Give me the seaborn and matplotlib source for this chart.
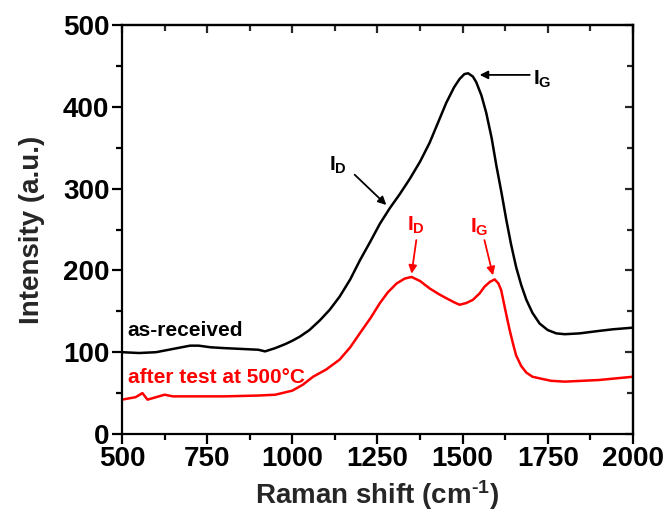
import numpy as np
import pandas as pd
import matplotlib
matplotlib.use("Agg")
import matplotlib.pyplot as plt
import seaborn as sns
from matplotlib.ticker import MultipleLocator, NullFormatter

# Raman shift (cm^-1) and intensities
shift_asrec = [500, 550, 600, 650, 700, 725, 760, 800, 850, 900, 920, 950, 980,
               1000, 1022, 1050, 1081, 1110, 1139, 1170, 1198, 1230, 1257, 1286,
               1315, 1345, 1375, 1403, 1430, 1452, 1475, 1491, 1505, 1516, 1530,
               1540, 1555, 1569, 1585, 1599, 1614, 1628, 1642, 1657, 1672, 1687,
               1705, 1726, 1750, 1775, 1800, 1843, 1900, 1941, 2000]
int_asrec = [100, 99, 100, 104, 108, 108, 106, 105, 104, 103, 101, 105, 110,
             114, 119, 127, 139, 152, 168, 189, 212, 236, 257, 276,
             293, 312, 333, 356, 383, 405, 424, 434, 440, 441, 437,
             430, 414, 393, 362, 328, 295, 262, 232, 204, 182, 164,
             148, 135, 127, 123, 122, 123, 126, 128, 130]

shift_after = [500, 540, 560, 575, 600, 625, 650, 700, 800, 900, 950, 1000,
               1030, 1061, 1100, 1139, 1170, 1198, 1230, 1257, 1280, 1306, 1330,
               1350, 1375, 1403, 1430, 1452, 1475, 1491, 1510, 1530, 1550, 1564,
               1580, 1594, 1605, 1613, 1625, 1638, 1648, 1657, 1672, 1687, 1705,
               1726, 1760, 1800, 1900, 2000]
int_after = [42, 45, 50, 42, 45, 48, 46, 46, 46, 47, 48, 53,
             60, 70, 79, 91, 106, 123, 142, 160, 173, 184, 190,
             192, 187, 178, 171, 166, 161, 158, 160, 164, 172, 180,
             186, 189, 184, 176, 152, 127, 110, 96, 83, 75, 70,
             68, 65, 64, 66, 70]

series_names = ["as-received", "after test at 500\u00b0C"]
series_colors = ["#000000", "#ff0000"]

df = pd.concat([
    pd.DataFrame({"shift": shift_asrec, "intensity": int_asrec, "sample": series_names[0]}),
    pd.DataFrame({"shift": shift_after, "intensity": int_after, "sample": series_names[1]}),
])

sns.set_theme(style="ticks")
plt.rcParams["font.family"] = ["Liberation Sans", "DejaVu Sans"]
plt.rcParams["font.weight"] = "bold"
plt.rcParams["mathtext.fontset"] = "custom"
plt.rcParams["mathtext.rm"] = "Liberation Sans:bold"
plt.rcParams["mathtext.bf"] = "Liberation Sans:bold"
plt.rcParams["mathtext.it"] = "Liberation Sans:bold"
plt.rcParams["mathtext.default"] = "bf"

fig = plt.figure(figsize=(6.68, 5.2), dpi=100)
ax = fig.add_axes([0.1826, 0.1654, 0.9476 - 0.1826, 0.9519 - 0.1654])

sns.lineplot(data=df, x="shift", y="intensity", hue="sample",
             palette=dict(zip(series_names, series_colors)),
             linewidth=1.8, legend=False, ax=ax, sort=True)

ax.set_xlim(500, 2000)
ax.set_ylim(0, 500)
ax.xaxis.set_major_locator(MultipleLocator(250))
ax.xaxis.set_minor_locator(MultipleLocator(125))
ax.yaxis.set_major_locator(MultipleLocator(100))
ax.yaxis.set_minor_locator(MultipleLocator(50))

for s in ax.spines.values():
    s.set_linewidth(1.6)
    s.set_color("black")

ax.tick_params(axis="both", which="major", direction="out", length=7, width=1.6,
               labelsize=20, pad=2, colors="black")
ax.tick_params(axis="both", which="minor", direction="out", length=4, width=1.6,
               colors="black")

# mirrored ticks pointing inward on top and right
sec_x = ax.secondary_xaxis("top")
sec_x.xaxis.set_major_locator(MultipleLocator(250))
sec_x.xaxis.set_minor_locator(MultipleLocator(125))
sec_x.xaxis.set_major_formatter(NullFormatter())
sec_x.tick_params(which="major", direction="in", length=6, width=1.6)
sec_x.tick_params(which="minor", direction="in", length=4, width=1.6)
sec_x.spines["top"].set_linewidth(1.6)

sec_y = ax.secondary_yaxis("right")
sec_y.yaxis.set_major_locator(MultipleLocator(100))
sec_y.yaxis.set_minor_locator(MultipleLocator(50))
sec_y.yaxis.set_major_formatter(NullFormatter())
sec_y.tick_params(which="major", direction="in", length=6, width=1.6)
sec_y.tick_params(which="minor", direction="in", length=4, width=1.6)
sec_y.spines["right"].set_linewidth(1.6)

for lab in ax.get_xticklabels() + ax.get_yticklabels():
    lab.set_fontweight("bold")

ax.set_xlabel("Raman shift (cm$^{\\text{-1}}$)", fontsize=20, fontweight="bold", labelpad=4)
ax.set_ylabel("Intensity (a.u.)", fontsize=20, fontweight="bold", labelpad=13)

ax.text(517, 127, series_names[0], color=series_colors[0], fontsize=15,
        fontweight="bold", va="center", ha="left")
ax.text(517, 69, series_names[1], color=series_colors[1], fontsize=15,
        fontweight="bold", va="center", ha="left")

arrow_k = dict(arrowstyle="-|>", color="black", lw=1.3, mutation_scale=12,
               shrinkA=0, shrinkB=0)
arrow_r = dict(arrowstyle="-|>", color="red", lw=1.3, mutation_scale=12,
               shrinkA=0, shrinkB=0)

# text labels
ax.text(1134, 328, "I$_{D}$", color="black", fontsize=15, ha="center", va="center")
ax.text(1735, 433, "I$_{G}$", color="black", fontsize=15, ha="center", va="center")
ax.text(1364, 255, "I$_{D}$", color="red", fontsize=15, ha="center", va="center")
ax.text(1550, 253, "I$_{G}$", color="red", fontsize=15, ha="center", va="center")

# arrows
ax.annotate("", xy=(1276, 280), xytext=(1183, 317), arrowprops=arrow_k)
ax.annotate("", xy=(1550, 439), xytext=(1697, 439), arrowprops=arrow_k)
ax.annotate("", xy=(1350, 196), xytext=(1364, 237), arrowprops=arrow_r)
ax.annotate("", xy=(1589, 194), xytext=(1564, 237), arrowprops=arrow_r)

fig.savefig("out.png", dpi=100)
